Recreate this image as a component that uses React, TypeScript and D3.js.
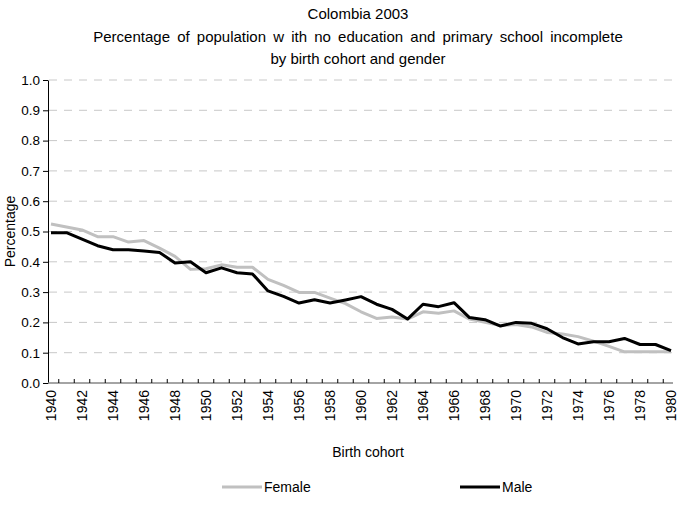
import { useEffect, useRef } from 'react';
import * as d3 from 'd3';

const years = d3.range(1940, 1981).map(String);

const female = [
  0.525, 0.515, 0.505, 0.483, 0.483, 0.465, 0.47, 0.445, 0.418, 0.375,
  0.377, 0.39, 0.382, 0.382, 0.342, 0.322, 0.299, 0.299, 0.28, 0.262,
  0.235, 0.213, 0.218, 0.211, 0.235, 0.23, 0.238, 0.211, 0.2, 0.19,
  0.193, 0.185, 0.167, 0.162, 0.153, 0.138, 0.121, 0.103, 0.103, 0.103,
  0.103,
];

const male = [
  0.496, 0.496, 0.475, 0.453, 0.44, 0.44, 0.436, 0.431, 0.396, 0.4,
  0.364, 0.38, 0.364, 0.36, 0.304, 0.286, 0.264, 0.275, 0.264, 0.274,
  0.285, 0.26, 0.243, 0.211, 0.26, 0.252, 0.265, 0.216, 0.209, 0.188,
  0.2, 0.197, 0.179, 0.15, 0.129, 0.136, 0.136, 0.147, 0.127, 0.127,
  0.107,
];

const yTicks = d3.range(0, 11).map(i => i / 10);

const titleLines = [
  'Colombia 2003',
  'Percentage of population w ith no education and primary school incomplete',
  'by birth cohort and gender',
];

const series = [
  { name: 'Female', values: female, color: '#c0c0c0' },
  { name: 'Male', values: male, color: '#000000' },
];

const W = 681;
const H = 507;
const FONT = '"Liberation Sans", Arial, sans-serif';

export default function App() {
  const svgRef = useRef<SVGSVGElement>(null);

  useEffect(() => {
    if (!svgRef.current) return;
    const svg = d3.select(svgRef.current);
    svg.selectAll('*').remove();

    const margin = { top: 80, right: 8, bottom: 124, left: 48 };
    const width = W - margin.left - margin.right;
    const height = H - margin.top - margin.bottom;

    const g = svg.append('g').attr('transform', `translate(${margin.left},${margin.top})`);

    // category centres; first and last sit close to the plot edges
    const x = d3.scalePoint().domain(years).range([3, width - 2]);
    const y = d3.scaleLinear().domain([0, 1]).range([height, 0]);

    // grid
    g.append('g')
      .selectAll('line')
      .data(yTicks.slice(1))
      .join('line')
      .attr('x1', 1)
      .attr('x2', width)
      .attr('y1', d => y(d))
      .attr('y2', d => y(d))
      .attr('stroke', '#c8c8c8')
      .attr('stroke-width', 1)
      .attr('stroke-dasharray', '8,7');

    // y axis
    const yAxis = g.append('g')
      .call(d3.axisLeft(y).tickValues(yTicks).tickSize(5).tickSizeOuter(0).tickFormat(d3.format('.1f')));
    yAxis.select('.domain').attr('stroke', '#000');
    yAxis.selectAll('.tick line').attr('stroke', '#000');
    yAxis.selectAll('.tick text')
      .attr('x', -8)
      .style('font-family', FONT)
      .style('font-size', '13.5px')
      .style('fill', '#000');

    // x axis
    const xAxisG = g.append('g').attr('transform', `translate(0,${height})`);
    xAxisG.append('line')
      .attr('x1', 0)
      .attr('x2', width)
      .attr('stroke', '#868686')
      .attr('stroke-width', 1.5);
    xAxisG.selectAll('line.tk')
      .data(years.slice(1))
      .join('line')
      .attr('class', 'tk')
      .attr('x1', d => (x(d) || 0) - x.step() / 2)
      .attr('x2', d => (x(d) || 0) - x.step() / 2)
      .attr('y1', 0)
      .attr('y2', -4)
      .attr('stroke', '#000');
    xAxisG.selectAll('text')
      .data(years.filter((_, i) => i % 2 === 0))
      .join('text')
      .attr('transform', d => `translate(${(x(d) || 0) + 5},7) rotate(-90)`)
      .attr('text-anchor', 'end')
      .style('font-family', FONT)
      .style('font-size', '14px')
      .text(d => d);

    // lines
    const line = d3.line<number>()
      .x((_, i) => x(years[i]) || 0)
      .y(d => y(d));

    series.forEach(s => {
      g.append('path')
        .datum(s.values)
        .attr('fill', 'none')
        .attr('stroke', s.color)
        .attr('stroke-width', 3)
        .attr('stroke-linejoin', 'round')
        .attr('d', line);
    });

    // titles
    svg.append('g')
      .selectAll('text')
      .data(titleLines)
      .join('text')
      .attr('x', 358)
      .attr('y', (_, i) => 19 + i * 22.5)
      .attr('text-anchor', 'middle')
      .style('font-family', FONT)
      .style('font-size', '15px')
      .style('word-spacing', (_, i) => (i === 1 ? '3px' : '0px'))
      .text(d => d);

    svg.append('text')
      .attr('transform', `translate(15,${margin.top + height / 2}) rotate(-90)`)
      .attr('text-anchor', 'middle')
      .style('font-family', FONT)
      .style('font-size', '14px')
      .text('Percentage');

    svg.append('text')
      .attr('x', 368)
      .attr('y', 457)
      .attr('text-anchor', 'middle')
      .style('font-family', FONT)
      .style('font-size', '14px')
      .text('Birth cohort');

    // legend
    const legend = svg.append('g').attr('transform', 'translate(0,487)');
    const legendX = [222, 460];
    series.forEach((s, i) => {
      legend.append('line')
        .attr('x1', legendX[i])
        .attr('x2', legendX[i] + 40)
        .attr('stroke', s.color)
        .attr('stroke-width', 3);
      legend.append('text')
        .attr('x', legendX[i] + 42)
        .attr('dy', '0.35em')
        .style('font-family', FONT)
        .style('font-size', '14px')
        .text(s.name);
    });
  }, []);

  return (
    <svg
      ref={svgRef}
      width={W}
      height={H}
      style={{ position: 'absolute', left: 0, top: 0, background: '#fff' }}
    />
  );
}
